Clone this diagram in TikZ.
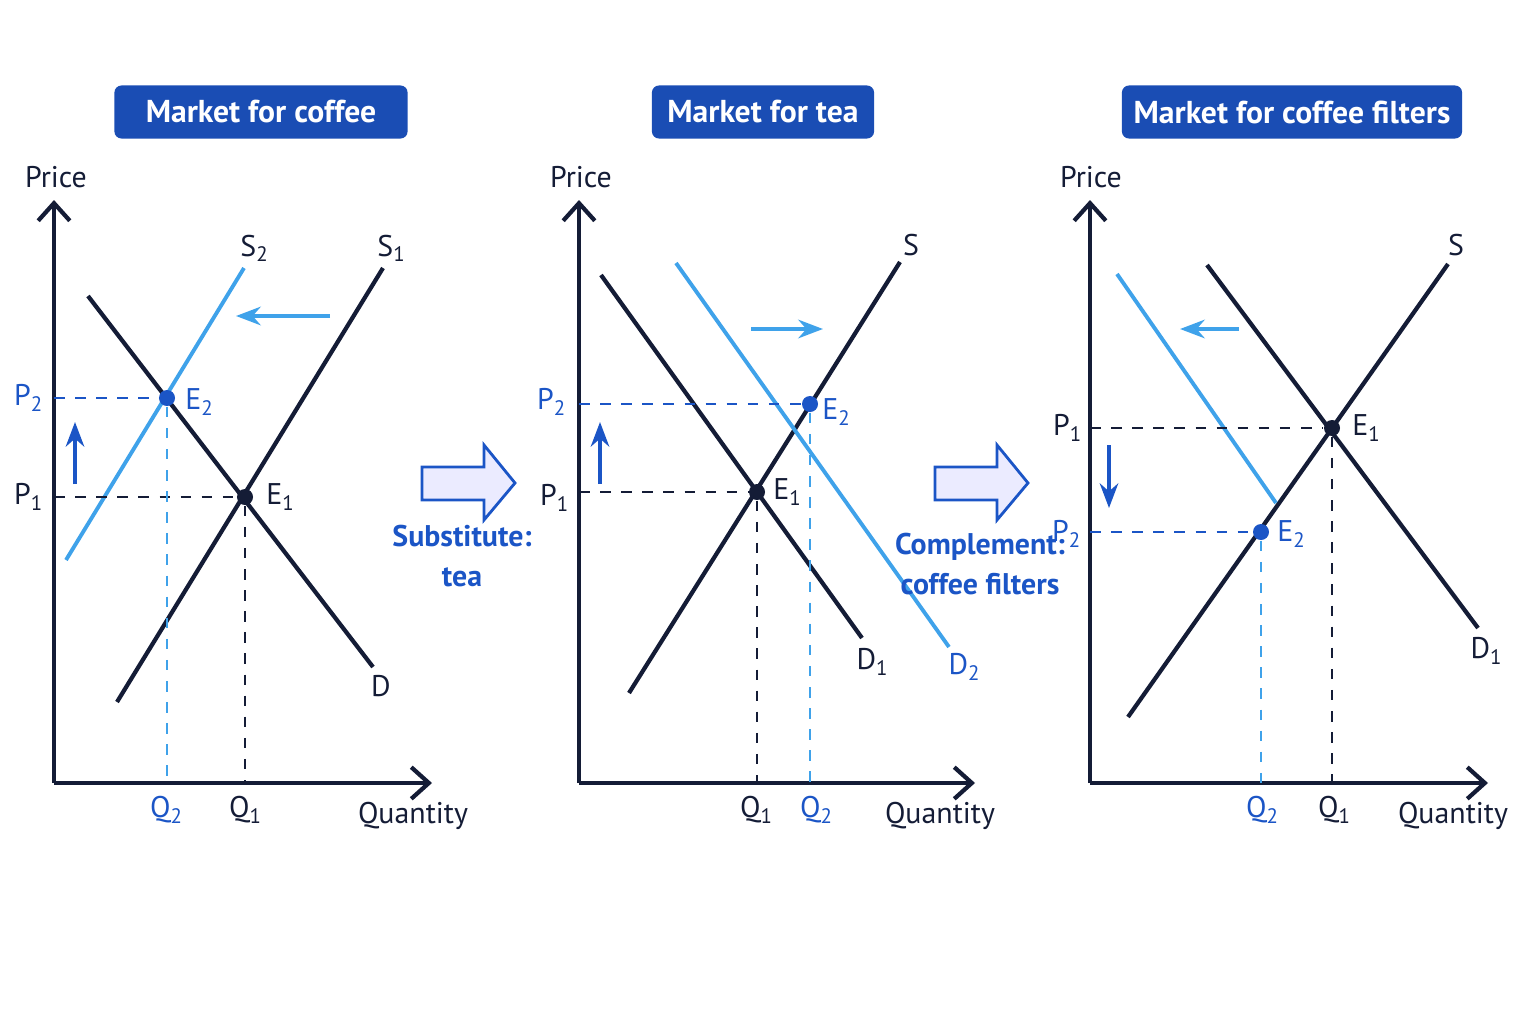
\documentclass[tikz,border=0pt]{standalone}
\usepackage{fontspec}
\setmainfont{PT Sans}
\usetikzlibrary{positioning}
\usetikzlibrary{arrows.meta}
\definecolor{navy}{HTML}{141C36}
\definecolor{lblue}{HTML}{3FA2EA}
\definecolor{dblue}{HTML}{1B55C6}
\definecolor{boxblue}{HTML}{1A4DB4}
\newcommand{\sub}[1]{\textsubscript{#1}}
\tikzset{
  curve/.style={line width=1.2pt, navy},
  shifted/.style={line width=1.1pt, lblue},
  axis/.style={line width=1.2pt, navy, -{Straight Barb[length=5pt,width=9pt]}},
  guide/.style={dashed, line width=0.7pt, navy},
  bguide/.style={dashed, line width=0.7pt, dblue},
  lguide/.style={dashed, line width=0.7pt, lblue},
  lbl/.style={font=\fontsize{8.5}{10}\selectfont, text=navy},
  blbl/.style={font=\fontsize{8.5}{10}\selectfont, text=dblue},
  title/.style={fill=boxblue, rounded corners=2pt, text=white, font=\bfseries\fontsize{9}{11}\selectfont, minimum height=0.53cm},
  eq/.style={circle, fill=navy, inner sep=0pt, minimum size=0.16cm},
  beq/.style={circle, fill=dblue, inner sep=0pt, minimum size=0.16cm},
  bigarrow/.style={draw=dblue, fill=blue!8, line width=0.8pt, line join=miter},
}
\begin{document}
\begin{tikzpicture}[x=0.01cm, y=-0.01cm]
\useasboundingbox (0,0) rectangle (1536,1024);

% Market for coffee
\node[title, minimum width=2.93cm] at (261,112) {Market for coffee};
\coordinate (o1) at (54,783);
\draw[axis] (o1) -- (54,200);
\draw[axis] (o1) -- (432,783);
\node[lbl] at (56,177) {Price};
\node[lbl] at (413,816) {Quantity};
\draw[curve] (117,702) -- (383,268);
\draw[curve] (88,296) -- (373,667);
\draw[shifted] (66,560) -- (244,268);
\node[eq] (e11) at (245,497) {};
\node[beq] (e12) at (167,398) {};
\draw[guide] (54,497) -- (e11);
\draw[guide] (e11) -- (245,783);
\draw[bguide] (54,398) -- (e12);
\draw[lguide] (e12) -- (167,783);
\draw[-{Stealth[length=7pt]}, lblue, line width=1.3pt] (330,316) -- (236,316);
\draw[-{Stealth[length=7pt]}, dblue, line width=1pt] (75,484) -- (75,422);
\node[lbl] at (255,248) {S\sub{2}};
\node[lbl] at (392,248) {S\sub{1}};
\node[lbl] at (381,686) {D};
\node[lbl] at (281,497) {E\sub{1}};
\node[blbl] at (200,402) {E\sub{2}};
\node[blbl] at (29,398) {P\sub{2}};
\node[lbl] at (29,497) {P\sub{1}};
\node[blbl] at (167,810) {Q\sub{2}};
\node[lbl] at (246,810) {Q\sub{1}};

\draw[bigarrow] (422,467) -- (484,467) -- (484,445) -- (515,483) -- (484,520) -- (484,500) -- (422,500) -- cycle;
\node[blbl, font=\bfseries\fontsize{8.5}{11.5}\selectfont, align=center] at (462,556) {Substitute:\\tea};

% Market for tea
\node[title, minimum width=2.22cm] at (763,112) {Market for tea};
\coordinate (o2) at (579,783);
\draw[axis] (o2) -- (579,200);
\draw[axis] (o2) -- (975,783);
\node[lbl] at (581,177) {Price};
\node[lbl] at (940,816) {Quantity};
\draw[curve] (629,693) -- (900,262);
\draw[curve] (601,275) -- (862,638);
\draw[shifted] (676,263) -- (949,647);
\node[eq] (e21) at (757,492) {};
\node[beq] (e22) at (810,404) {};
\draw[guide] (579,492) -- (e21);
\draw[guide] (e21) -- (757,783);
\draw[bguide] (579,404) -- (e22);
\draw[lguide] (e22) -- (810,783);
\draw[-{Stealth[length=7pt]}, lblue, line width=1.3pt] (751,329) -- (823,329);
\draw[-{Stealth[length=7pt]}, dblue, line width=1pt] (600,484) -- (600,422);
\node[lbl] at (911,245) {S};
\node[lbl] at (873,662) {D\sub{1}};
\node[blbl] at (965,667) {D\sub{2}};
\node[lbl] at (788,492) {E\sub{1}};
\node[blbl] at (837,412) {E\sub{2}};
\node[blbl] at (552,402) {P\sub{2}};
\node[lbl] at (555,498) {P\sub{1}};
\node[lbl] at (757,810) {Q\sub{1}};
\node[blbl] at (817,810) {Q\sub{2}};

\draw[bigarrow] (935,467) -- (997,467) -- (997,445) -- (1028,483) -- (997,520) -- (997,500) -- (935,500) -- cycle;
\node[blbl, font=\bfseries\fontsize{8.5}{11.5}\selectfont, align=center] at (980,564) {Complement:\\coffee filters};

% Market for coffee filters
\node[title, minimum width=3.21cm] at (1292,112) {Market for coffee filters};
\coordinate (o3) at (1090,783);
\draw[axis] (o3) -- (1090,200);
\draw[axis] (o3) -- (1488,783);
\node[lbl] at (1091,177) {Price};
\node[lbl] at (1453,816) {Quantity};
\draw[curve] (1128,717) -- (1448,264);
\draw[curve] (1207,265) -- (1478,628);
\draw[shifted] (1117,274) -- (1276,503);
\node[eq] (e31) at (1332,428) {};
\node[beq] (e32) at (1261,532) {};
\draw[guide] (1090,428) -- (e31);
\draw[guide] (e31) -- (1332,783);
\draw[bguide] (1090,532) -- (e32);
\draw[lguide] (e32) -- (1261,783);
\draw[-{Stealth[length=7pt]}, lblue, line width=1.3pt] (1239,329) -- (1180,329);
\draw[-{Stealth[length=7pt]}, dblue, line width=1pt] (1109,445) -- (1109,508);
\node[lbl] at (1456,245) {S};
\node[lbl] at (1487,651) {D\sub{1}};
\node[lbl] at (1367,428) {E\sub{1}};
\node[blbl] at (1292,534) {E\sub{2}};
\node[lbl] at (1068,428) {P\sub{1}};
\node[blbl] at (1067,534) {P\sub{2}};
\node[blbl] at (1263,810) {Q\sub{2}};
\node[lbl] at (1335,810) {Q\sub{1}};
\end{tikzpicture}
\end{document}
